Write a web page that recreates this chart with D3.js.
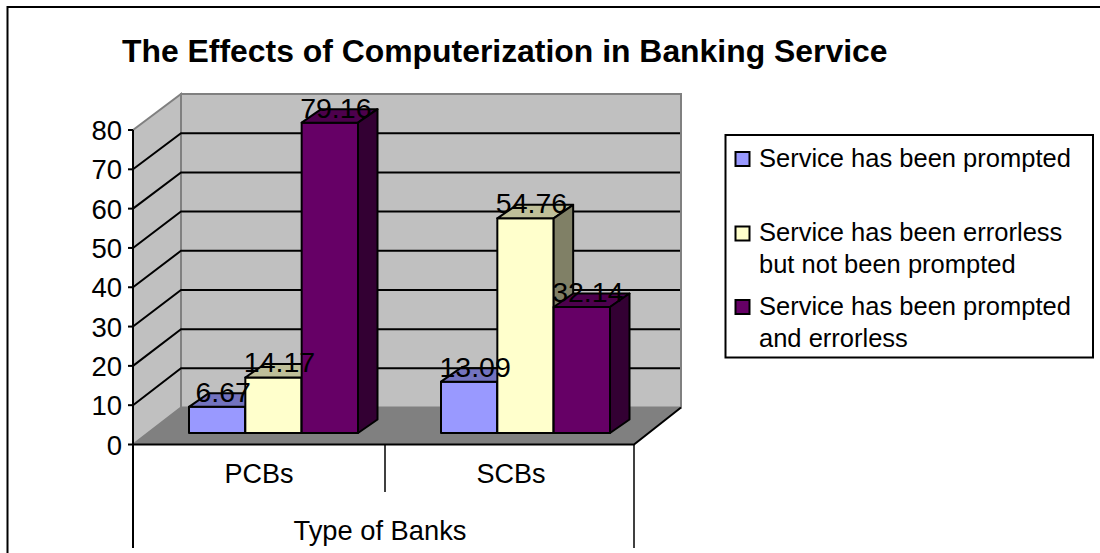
<!DOCTYPE html>
<html>
<head>
<meta charset="utf-8">
<style>
  html, body { margin: 0; padding: 0; background: #fff; overflow: hidden; }
  text { font-family: "Liberation Sans", Arial, sans-serif; fill: #000; }
</style>
<script src="https://cdn.jsdelivr.net/npm/d3@7"></script>
</head>
<body>
<svg id="chart" width="1100" height="553"></svg>
<script>
const titleText = "The Effects of Computerization in Banking Service";
const categories = ["PCBs", "SCBs"];
const axisTitle = "Type of Banks";
const seriesNames = ["Service has been prompted", "Service has been errorless but not been prompted", "Service has been prompted and errorless"];
const legendLines = [["Service has been prompted"], ["Service has been errorless", "but not been prompted"], ["Service has been prompted", "and errorless"]];
const promptedValues = [6.67, 13.09];
const errorlessValues = [14.17, 54.76];
const bothValues = [79.16, 32.14];
const yTicks = [0, 10, 20, 30, 40, 50, 60, 70, 80];

const frontColors = ["#9999ff", "#ffffcc", "#660066"];
const topColors = ["#7373bf", "#bfbf99", "#4d004d"];
const sideColors = ["#4c4c80", "#808066", "#330033"];

const svg = d3.select("#chart");
const series = [promptedValues, errorlessValues, bothValues];

// Oblique box: front edge of the floor, back wall, and the plane the bars stand on
const yFront = d3.scaleLinear().domain([0, 80]).range([444.5, 130]);
const yBack = d3.scaleLinear().domain([0, 80]).range([407.5, 94]);
const yBar = d3.scaleLinear().domain([0, 80]).range([433, 119.4]);
const xCat = d3.scaleBand().domain(categories).range([133, 637]);
const xSeries = d3.scaleBand().domain(d3.range(3)).range([56, 225]);
const left = 133, right = 634, backLeft = 181, backRight = 681;
const barDx = 19.5, barDy = -13.5;

const poly = pts => pts.map(p => p.join(",")).join(" ");

// Chart frame (open at the right and bottom)
svg.append("path").attr("d", "M1100,7H7.5V553").attr("fill", "none").attr("stroke", "#000").attr("stroke-width", 2);

svg.append("text").attr("x", 122).attr("y", 62).attr("font-size", 31.9).attr("font-weight", "bold").text(titleText);

// Walls and floor
svg.append("polygon")
  .attr("points", poly([[left, yFront(80)], [backLeft, yBack(80)], [backLeft, yBack(0)], [left, yFront(0)]]))
  .attr("fill", "#c0c0c0").attr("stroke", "#808080").attr("stroke-width", 2);
svg.append("rect")
  .attr("x", backLeft).attr("y", yBack(80))
  .attr("width", backRight - backLeft).attr("height", yBack(0) - yBack(80))
  .attr("fill", "#c0c0c0").attr("stroke", "#808080").attr("stroke-width", 2);
svg.append("polygon")
  .attr("points", poly([[left, yFront(0)], [right, yFront(0)], [backRight, yBack(0)], [backLeft, yBack(0)]]))
  .attr("fill", "#808080");

// Gridlines wrap from the side wall onto the back wall
const grid = yTicks.filter(t => t > 0 && t < 80);
svg.append("g").selectAll("path").data(grid).join("path")
  .attr("d", t => `M${left},${yFront(t)}L${backLeft},${yBack(t)}H${backRight - 1}`)
  .attr("fill", "none").attr("stroke", "#000").attr("stroke-width", 2);

// Floor edges, value axis and category dividers
const lines = svg.append("g").attr("stroke", "#000").attr("fill", "none");
lines.append("path").attr("d", `M${left},${yFront(0)}H${right}L${backRight},${yBack(0)}`).attr("stroke-width", 2);
lines.append("path").attr("d", `M${left},${yFront(80)}V548`).attr("stroke-width", 2);
lines.append("path").attr("d", `M${xCat("SCBs")},${yFront(0)}V492`).attr("stroke-width", 1.5);
lines.append("path").attr("d", `M${right},${yFront(0)}V548`).attr("stroke-width", 1.5);
lines.selectAll(".tick").data(yTicks).join("path").attr("class", "tick")
  .attr("d", t => `M128,${yFront(t)}H${left}`).attr("stroke-width", 2);

svg.append("g").selectAll("text").data(yTicks).join("text")
  .attr("x", 122).attr("y", t => yFront(t) + 10)
  .attr("text-anchor", "end").attr("font-size", 27.5).text(t => t);

// Bars, painted group by group so later bars overlap earlier ones
const barData = categories.flatMap((c, ci) => series.map((vals, si) => ({ c, si, v: vals[ci] })));
const bars = svg.append("g").selectAll("g").data(barData).join("g")
  .attr("stroke", "#000").attr("stroke-width", 2).attr("stroke-linejoin", "round");
const x0 = d => xCat(d.c) + xSeries(d.si);
const x1 = d => x0(d) + xSeries.bandwidth();
bars.append("rect")
  .attr("x", x0).attr("y", d => yBar(d.v))
  .attr("width", xSeries.bandwidth()).attr("height", d => yBar(0) - yBar(d.v))
  .attr("fill", d => frontColors[d.si]);
bars.append("polygon")
  .attr("points", d => poly([[x0(d), yBar(d.v)], [x0(d) + barDx, yBar(d.v) + barDy], [x1(d) + barDx, yBar(d.v) + barDy], [x1(d), yBar(d.v)]]))
  .attr("fill", d => topColors[d.si]);
bars.append("polygon")
  .attr("points", d => poly([[x1(d), yBar(d.v)], [x1(d) + barDx, yBar(d.v) + barDy], [x1(d) + barDx, yBar(0) + barDy], [x1(d), yBar(0)]]))
  .attr("fill", d => sideColors[d.si]);

// Value labels sit above every bar
svg.append("g").selectAll("text").data(barData).join("text")
  .attr("x", d => x0(d) + xSeries.bandwidth() / 2 + 6)
  .attr("y", d => yBar(d.v) - 5)
  .attr("text-anchor", "middle").attr("font-size", 28.5)
  .text(d => d.v.toFixed(2));

// Category labels and axis title
svg.append("g").selectAll("text").data(categories).join("text")
  .attr("x", c => xCat(c) + xCat.bandwidth() / 2)
  .attr("y", 483).attr("text-anchor", "middle").attr("font-size", 27).text(c => c);
svg.append("text").attr("x", 380).attr("y", 540).attr("text-anchor", "middle").attr("font-size", 27.3).text(axisTitle);

// Legend
svg.append("rect").attr("x", 725.5).attr("y", 135).attr("width", 367.5).attr("height", 222.5)
  .attr("fill", "#fff").attr("stroke", "#000").attr("stroke-width", 2);
const swatchY = [152, 226.5, 300];
const baselines = [[166.7], [241, 273], [315, 347]];
const legend = svg.append("g").selectAll("g").data(seriesNames).join("g");
legend.append("rect").attr("x", 735.5).attr("y", (d, i) => swatchY[i]).attr("width", 14).attr("height", 14)
  .attr("fill", (d, i) => frontColors[i]).attr("stroke", "#000").attr("stroke-width", 2);
legend.each(function (d, i) {
  d3.select(this).selectAll("text").data(legendLines[i]).join("text")
    .attr("x", 759).attr("y", (l, j) => baselines[i][j]).attr("font-size", 25.5).text(l => l);
});
</script>
</body>
</html>
